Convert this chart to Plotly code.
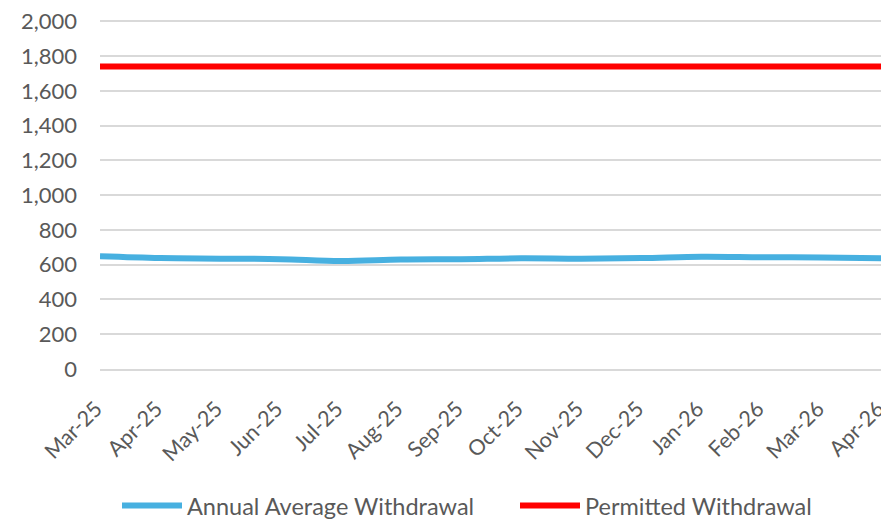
import plotly.graph_objects as go

months = ["Mar-25", "Apr-25", "May-25", "Jun-25", "Jul-25", "Aug-25", "Sep-25",
          "Oct-25", "Nov-25", "Dec-25", "Jan-26", "Feb-26", "Mar-26", "Apr-26"]
annual_avg = [648, 638, 635, 632, 621, 630, 632, 637, 635, 638, 646, 643, 642, 637]
permitted = [1740] * len(months)
y_ticks = list(range(0, 2001, 200))

FONT = "Lato"
GREY = "#595959"
FS = 23.5

fig = go.Figure()
fig.add_trace(go.Scatter(x=months, y=annual_avg, mode="lines",
                         name="Annual Average Withdrawal", legend="legend",
                         line=dict(color="#47B0E0", width=6, shape="spline")))
fig.add_trace(go.Scatter(x=months, y=permitted, mode="lines",
                         name="Permitted Withdrawal", legend="legend2",
                         line=dict(color="#FF0000", width=6)))

leg_common = dict(orientation="h", y=-0.392, yanchor="middle", xanchor="left",
                  font=dict(size=FS, color=GREY), itemwidth=60,
                  bgcolor="rgba(0,0,0,0)")

fig.update_layout(
    width=881, height=513,
    margin=dict(l=92, r=7, t=12, b=152, autoexpand=False),
    paper_bgcolor="white", plot_bgcolor="white",
    font=dict(family=FONT, size=FS, color=GREY),
    showlegend=True,
    legend=dict(x=17 / 782, **leg_common),
    legend2=dict(x=415 / 782, **leg_common),
)
fig.update_xaxes(type="category", range=[0, len(months) - 1], tickangle=-45,
                 showgrid=False, showline=True, linecolor="#D9D9D9", linewidth=1.5,
                 ticks="", automargin=False, ticklabelstandoff=17,
                 ticklabelshift=-4, ticklabeloverflow="allow",
                 tickfont=dict(size=21.5, color=GREY))
fig.update_yaxes(range=[0, 2008], tickvals=y_ticks, tickformat=",", showgrid=True,
                 gridcolor="#D9D9D9", gridwidth=1.5, zeroline=False, showline=False,
                 ticks="", automargin=False, ticklabelstandoff=22,
                 ticklabeloverflow="allow",
                 tickfont=dict(size=22, color=GREY))

fig.write_html("out.html")
